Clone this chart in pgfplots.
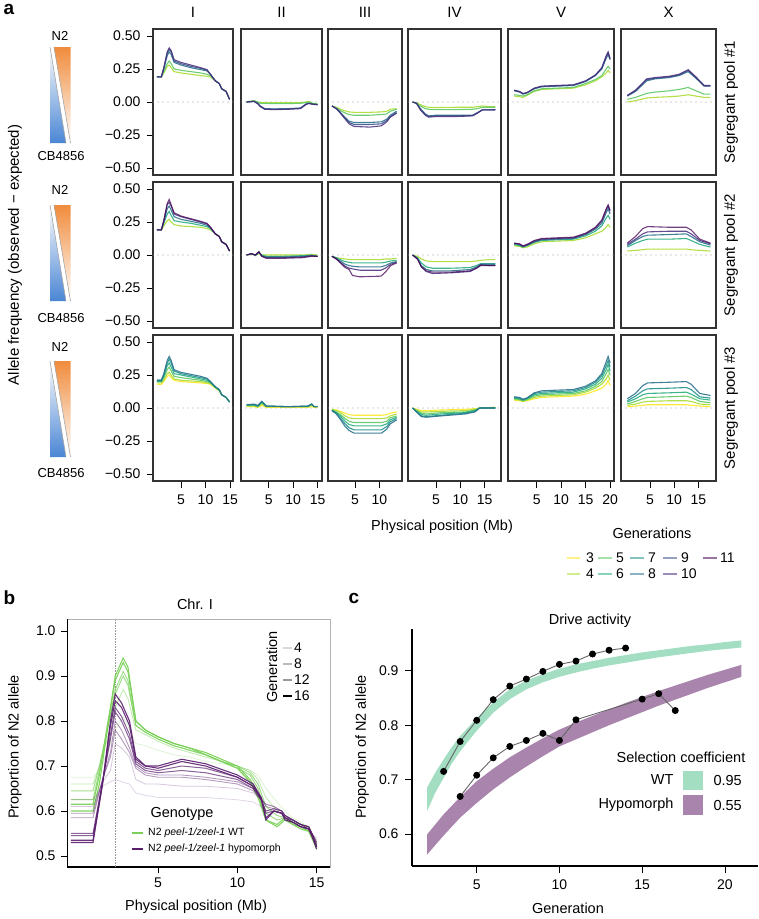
\documentclass[border=0pt]{standalone}
\usepackage{pgfplots}
\pgfplotsset{compat=1.18}
\usepackage{pgfplotstable}
\usepackage{fontspec}
\setmainfont{Liberation Sans}
\newcommand{\fs}[1]{\fontsize{#1}{#1}\selectfont}

\definecolor{v3}{HTML}{FDE725}
\definecolor{v4}{HTML}{AADC32}
\definecolor{v5}{HTML}{5DC863}
\definecolor{v6}{HTML}{27AD81}
\definecolor{v7}{HTML}{21908C}
\definecolor{v8}{HTML}{2C728E}
\definecolor{v9}{HTML}{3B528B}
\definecolor{v10}{HTML}{472D7B}
\definecolor{v11}{HTML}{440154}
\definecolor{cbBlue}{HTML}{4A86D4}
\definecolor{cbOrange}{HTML}{F08C3C}
\definecolor{wtg}{HTML}{7BD05A}
\definecolor{hyp}{HTML}{5A1E6E}
\definecolor{bandG}{HTML}{A3DEC3}
\definecolor{bandP}{HTML}{A985AD}

\tikzset{zeroline/.style={gray!75, line width=1.2pt, line cap=round, dash pattern=on 0pt off 5pt}}
\pgfplotsset{
  /pgf/number format/assume math mode=true,
  g3/.style={v3, line width=1.1pt, opacity=0.9},
  g4/.style={v4, line width=1.1pt, opacity=0.9},
  g5/.style={v5, line width=1.1pt, opacity=0.9},
  g6/.style={v6, line width=1.1pt, opacity=0.9},
  g7/.style={v7, line width=1.1pt, opacity=0.9},
  g8/.style={v8, line width=1.1pt, opacity=0.9},
  g9/.style={v9, line width=1.1pt, opacity=0.9},
  g10/.style={v10, line width=1.1pt, opacity=0.85},
  g11/.style={v11, line width=1.1pt, opacity=0.75},
  pa/.style={scale only axis, anchor=north west, height=146pt,
    ymin=-0.5526, ymax=0.5526, xtick=\empty, ytick=\empty,
    axis line style={line width=1.2pt, black!80},
    tick style={black, line width=0.8pt}, tick align=outside,
    major tick length=6.5pt, xtick pos=bottom, ytick pos=left,
    tick label style={font=\fs{14}},
    xticklabel style={yshift=-3.5pt}, yticklabel style={xshift=-2.5pt}},
  yl/.style={ytick={-0.5,-0.25,0,0.25,0.5},
    yticklabels={−0.50,−0.25,0.00,0.25,0.50}},
}

\newcommand{\panel}[8]{%
  \begin{axis}[pa, at={(#1pt,-#2pt)}, width=#3pt, xmin=#4, xmax=#5, #6]
  \draw[zeroline] (axis cs:#4,0) -- (axis cs:#5,0);
  \pgfplotsinvokeforeach{#8}{\addplot[g##1] table[x=x,y=g##1]{#7};}
  \end{axis}}

% ---------------- Row 1: Segregant pool #1 ----------------
\pgfplotstableread{
x g4 g5 g8 g9 g10
0.1 0.19 0.19 0.19 0.19 0.19
1.0 0.19 0.19 0.19 0.19 0.19
1.5 0.22 0.23 0.25 0.255 0.26
2.2 0.27 0.29 0.35 0.37 0.38
2.6 0.28 0.31 0.38 0.40 0.41
3.0 0.26 0.29 0.36 0.38 0.39
3.6 0.23 0.25 0.30 0.31 0.32
5.0 0.22 0.24 0.28 0.29 0.30
7.0 0.21 0.23 0.26 0.27 0.28
9.0 0.20 0.22 0.245 0.255 0.26
10.3 0.195 0.21 0.235 0.24 0.245
11.0 0.19 0.20 0.21 0.21 0.21
12.0 0.16 0.16 0.16 0.16 0.16
12.8 0.14 0.14 0.14 0.14 0.14
13.3 0.10 0.10 0.10 0.10 0.10
14.2 0.08 0.08 0.08 0.08 0.08
14.9 0.02 0.02 0.02 0.02 0.02
}\tAI
\pgfplotstableread{
x g4 g5 g8 g9 g10
0.5 0.0 0.0 0.0 0.0 0.0
2.0 0.01 0.01 0.005 0.005 0.005
2.8 0.0 0.0 -0.01 -0.012 -0.015
3.3 -0.005 -0.01 -0.03 -0.033 -0.035
4.2 -0.005 -0.01 -0.05 -0.053 -0.055
6.0 -0.005 -0.012 -0.052 -0.055 -0.058
9.0 -0.005 -0.012 -0.05 -0.053 -0.055
11.5 -0.005 -0.01 -0.045 -0.048 -0.05
12.6 0.0 -0.005 -0.015 -0.018 -0.02
13.2 0.005 0.0 -0.01 -0.01 -0.01
14.0 -0.01 -0.01 -0.015 -0.016 -0.018
15.0 -0.015 -0.015 -0.02 -0.02 -0.02
}\tAII
\pgfplotstableread{
x g4 g5 g8 g9 g10
0.3 -0.03 -0.03 -0.03 -0.03 -0.03
1.2 -0.04 -0.045 -0.05 -0.05 -0.05
1.8 -0.05 -0.06 -0.07 -0.07 -0.075
2.8 -0.065 -0.08 -0.11 -0.115 -0.12
3.8 -0.075 -0.095 -0.145 -0.155 -0.165
4.8 -0.078 -0.10 -0.155 -0.17 -0.185
8.0 -0.078 -0.10 -0.155 -0.17 -0.19
10.4 -0.075 -0.095 -0.15 -0.165 -0.18
11.5 -0.07 -0.09 -0.13 -0.14 -0.15
12.2 -0.055 -0.07 -0.10 -0.11 -0.115
13.5 -0.05 -0.055 -0.07 -0.08 -0.085
}\tAIII
\pgfplotstableread{
x g4 g5 g8 g9 g10
0.2 0.0 0.0 0.0 0.0 0.0
1.0 -0.005 -0.01 -0.01 -0.01 -0.01
1.8 -0.02 -0.03 -0.05 -0.055 -0.06
2.8 -0.035 -0.05 -0.09 -0.095 -0.10
3.5 -0.04 -0.055 -0.105 -0.11 -0.115
5.0 -0.042 -0.058 -0.10 -0.105 -0.11
9.0 -0.04 -0.058 -0.10 -0.105 -0.11
12.5 -0.04 -0.055 -0.10 -0.103 -0.105
13.5 -0.035 -0.05 -0.08 -0.083 -0.085
14.5 -0.03 -0.04 -0.06 -0.06 -0.06
16.0 -0.035 -0.04 -0.06 -0.06 -0.06
17.2 -0.035 -0.04 -0.058 -0.058 -0.058
}\tAIV
\pgfplotstableread{
x g4 g5 g8 g9 g10
0.4 0.045 0.055 0.085 0.088 0.09
1.5 0.04 0.05 0.075 0.078 0.08
2.2 0.035 0.045 0.06 0.062 0.065
3.0 0.05 0.055 0.07 0.07 0.07
4.5 0.08 0.085 0.10 0.103 0.105
6.0 0.095 0.10 0.115 0.118 0.12
9.0 0.10 0.105 0.12 0.123 0.125
12.5 0.105 0.11 0.125 0.128 0.13
15.0 0.13 0.14 0.155 0.158 0.16
17.0 0.16 0.17 0.20 0.203 0.205
18.3 0.19 0.20 0.25 0.255 0.26
19.2 0.22 0.25 0.33 0.34 0.35
19.6 0.24 0.27 0.36 0.37 0.38
20.0 0.22 0.25 0.32 0.325 0.33
}\tAV
\pgfplotstableread{
x g4 g5 g8 g9 g10
0.3 0.0 0.02 0.045 0.048 0.05
2.0 0.01 0.035 0.08 0.085 0.09
4.3 0.03 0.065 0.16 0.168 0.175
6.0 0.035 0.075 0.175 0.18 0.185
9.0 0.04 0.085 0.185 0.19 0.195
11.0 0.045 0.095 0.20 0.205 0.21
12.9 0.055 0.11 0.23 0.238 0.245
14.5 0.045 0.085 0.18 0.185 0.19
16.2 0.035 0.06 0.12 0.123 0.125
17.5 0.035 0.06 0.12 0.123 0.125
}\tAX

% ---------------- Row 2: Segregant pool #2 ----------------
\pgfplotstableread{
x g4 g6 g8 g10 g11
0.1 0.19 0.19 0.19 0.19 0.19
1.0 0.19 0.19 0.19 0.19 0.19
1.5 0.22 0.24 0.25 0.26 0.26
2.2 0.26 0.31 0.35 0.38 0.39
2.6 0.27 0.33 0.37 0.40 0.42
3.0 0.25 0.30 0.34 0.37 0.38
3.6 0.23 0.26 0.29 0.31 0.32
5.0 0.22 0.25 0.27 0.29 0.295
7.0 0.215 0.24 0.255 0.27 0.275
9.0 0.21 0.225 0.24 0.25 0.255
10.3 0.20 0.215 0.225 0.235 0.24
11.0 0.19 0.20 0.205 0.21 0.21
12.0 0.16 0.16 0.16 0.16 0.16
12.8 0.14 0.14 0.14 0.14 0.14
13.3 0.10 0.10 0.10 0.10 0.10
14.2 0.08 0.08 0.08 0.08 0.08
14.9 0.03 0.03 0.03 0.03 0.03
}\tBI
\pgfplotstableread{
x g4 g6 g8 g10 g11
0.5 0.0 0.0 0.0 0.0 0.0
1.5 0.005 0.01 0.01 0.01 0.01
2.3 0.0 -0.005 0.0 0.0 0.0
3.0 0.01 0.02 0.02 0.025 0.025
3.6 0.0 0.0 -0.005 -0.01 -0.01
4.5 0.0 -0.01 -0.015 -0.02 -0.025
8.0 0.0 -0.01 -0.015 -0.02 -0.025
12.0 0.0 -0.005 -0.01 -0.015 -0.02
13.8 0.005 0.0 -0.005 -0.005 -0.01
15.0 0.0 -0.01 -0.01 -0.01 -0.01
}\tBII
\pgfplotstableread{
x g4 g6 g8 g10 g11
0.3 -0.01 -0.01 -0.01 -0.01 -0.01
1.2 -0.02 -0.02 -0.025 -0.03 -0.03
2.0 -0.025 -0.035 -0.045 -0.055 -0.06
3.0 -0.03 -0.05 -0.07 -0.085 -0.095
3.8 -0.035 -0.055 -0.08 -0.10 -0.11
4.5 -0.035 -0.06 -0.085 -0.105 -0.155
6.0 -0.035 -0.06 -0.09 -0.115 -0.165
10.3 -0.035 -0.06 -0.09 -0.115 -0.16
11.2 -0.03 -0.055 -0.08 -0.10 -0.13
12.3 -0.03 -0.045 -0.06 -0.07 -0.08
13.5 -0.025 -0.04 -0.05 -0.055 -0.06
}\tBIII
\pgfplotstableread{
x g4 g6 g8 g10 g11
0.2 0.0 0.0 0.0 0.0 0.0
1.2 -0.01 -0.02 -0.03 -0.03 -0.03
2.0 -0.03 -0.06 -0.08 -0.09 -0.09
3.0 -0.045 -0.09 -0.11 -0.125 -0.12
4.3 -0.05 -0.10 -0.12 -0.14 -0.13
8.0 -0.05 -0.10 -0.12 -0.135 -0.13
12.0 -0.05 -0.095 -0.11 -0.125 -0.12
13.3 -0.045 -0.08 -0.09 -0.10 -0.10
14.2 -0.04 -0.065 -0.07 -0.08 -0.075
16.0 -0.035 -0.065 -0.07 -0.08 -0.08
17.2 -0.035 -0.065 -0.07 -0.08 -0.08
}\tBIV
\pgfplotstableread{
x g4 g6 g8 g10 g11
0.4 0.07 0.08 0.085 0.09 0.09
1.5 0.065 0.07 0.08 0.08 0.085
2.2 0.055 0.06 0.065 0.065 0.07
3.0 0.06 0.07 0.075 0.075 0.08
4.5 0.085 0.095 0.10 0.105 0.11
6.0 0.10 0.11 0.115 0.12 0.125
9.0 0.105 0.115 0.12 0.125 0.13
12.5 0.11 0.12 0.125 0.13 0.135
15.0 0.13 0.145 0.155 0.16 0.165
17.0 0.16 0.18 0.195 0.205 0.21
18.3 0.18 0.22 0.24 0.255 0.265
19.2 0.21 0.28 0.32 0.34 0.35
19.6 0.23 0.30 0.35 0.37 0.38
20.0 0.21 0.27 0.31 0.33 0.34
}\tBV
\pgfplotstableread{
x g4 g6 g8 g10 g11
0.3 0.03 0.06 0.07 0.08 0.09
2.0 0.035 0.09 0.11 0.12 0.14
3.5 0.04 0.11 0.14 0.16 0.20
4.5 0.045 0.12 0.15 0.175 0.215
9.0 0.045 0.12 0.155 0.18 0.21
12.5 0.045 0.125 0.16 0.18 0.21
13.5 0.04 0.11 0.14 0.16 0.19
15.3 0.035 0.08 0.10 0.11 0.12
17.5 0.03 0.06 0.075 0.085 0.09
}\tBX

% ---------------- Row 3: Segregant pool #3 ----------------
\pgfplotstableread{
x g3 g4 g5 g6 g7 g8
0.1 0.18 0.19 0.20 0.20 0.21 0.21
1.0 0.18 0.19 0.20 0.20 0.21 0.21
1.5 0.20 0.21 0.23 0.24 0.25 0.26
2.2 0.24 0.26 0.29 0.32 0.34 0.36
2.6 0.25 0.27 0.31 0.34 0.37 0.39
3.0 0.23 0.25 0.28 0.31 0.34 0.36
3.6 0.21 0.22 0.24 0.26 0.28 0.29
5.0 0.20 0.21 0.23 0.25 0.26 0.27
7.0 0.195 0.205 0.22 0.235 0.245 0.255
9.0 0.19 0.20 0.21 0.22 0.23 0.24
10.3 0.185 0.19 0.20 0.21 0.22 0.225
11.0 0.18 0.185 0.19 0.195 0.20 0.20
12.0 0.15 0.155 0.155 0.16 0.16 0.16
12.8 0.13 0.13 0.135 0.135 0.14 0.14
13.3 0.10 0.10 0.10 0.10 0.10 0.10
14.2 0.08 0.08 0.08 0.08 0.08 0.08
14.9 0.045 0.045 0.045 0.045 0.045 0.045
}\tCI
\pgfplotstableread{
x g3 g4 g5 g6 g7 g8
0.5 0.01 0.015 0.02 0.02 0.025 0.025
2.0 0.01 0.015 0.02 0.025 0.025 0.03
2.8 0.005 0.01 0.01 0.015 0.015 0.02
3.6 0.02 0.03 0.04 0.045 0.05 0.05
4.5 0.005 0.01 0.01 0.015 0.015 0.015
9.0 0.005 0.01 0.01 0.01 0.01 0.01
13.0 0.005 0.01 0.01 0.01 0.015 0.015
13.8 0.01 0.02 0.025 0.03 0.03 0.03
14.3 0.005 0.01 0.01 0.01 0.01 0.01
15.0 0.005 0.01 0.01 0.01 0.01 0.01
}\tCII
\pgfplotstableread{
x g3 g4 g5 g6 g7 g8
0.3 -0.01 -0.01 -0.015 -0.015 -0.02 -0.02
1.2 -0.015 -0.02 -0.03 -0.035 -0.04 -0.045
2.0 -0.025 -0.035 -0.05 -0.06 -0.075 -0.085
3.0 -0.04 -0.06 -0.08 -0.10 -0.12 -0.14
3.8 -0.05 -0.075 -0.10 -0.125 -0.15 -0.17
4.8 -0.055 -0.08 -0.11 -0.135 -0.165 -0.19
10.4 -0.055 -0.08 -0.11 -0.135 -0.165 -0.19
11.5 -0.05 -0.075 -0.10 -0.12 -0.14 -0.16
12.2 -0.04 -0.06 -0.075 -0.09 -0.105 -0.12
13.5 -0.03 -0.045 -0.06 -0.07 -0.08 -0.09
}\tCIII
\pgfplotstableread{
x g3 g4 g5 g6 g7 g8
0.2 0.0 0.0 0.0 0.0 0.0 0.0
1.0 -0.01 -0.015 -0.02 -0.025 -0.03 -0.03
2.0 -0.02 -0.03 -0.04 -0.05 -0.06 -0.065
3.0 -0.02 -0.03 -0.045 -0.055 -0.065 -0.07
6.0 -0.015 -0.025 -0.035 -0.045 -0.055 -0.06
11.0 -0.01 -0.02 -0.03 -0.035 -0.04 -0.045
13.0 -0.005 -0.01 -0.015 -0.02 -0.025 -0.03
14.0 0.0 0.0 0.0 0.0 0.0 0.0
17.2 0.005 0.005 0.0 0.0 0.0 0.0
}\tCIV
\pgfplotstableread{
x g3 g4 g5 g6 g7 g8
0.4 0.06 0.065 0.07 0.075 0.08 0.085
1.5 0.055 0.06 0.065 0.07 0.075 0.08
2.2 0.05 0.05 0.055 0.06 0.065 0.065
3.0 0.055 0.06 0.065 0.07 0.075 0.075
4.5 0.07 0.08 0.09 0.10 0.11 0.115
6.0 0.08 0.09 0.10 0.11 0.12 0.13
9.0 0.085 0.095 0.105 0.115 0.125 0.135
12.5 0.09 0.10 0.11 0.12 0.13 0.14
15.0 0.105 0.12 0.13 0.145 0.155 0.165
17.0 0.13 0.15 0.165 0.18 0.195 0.205
18.3 0.15 0.18 0.20 0.225 0.245 0.26
19.2 0.18 0.22 0.26 0.29 0.32 0.35
19.6 0.21 0.25 0.29 0.33 0.36 0.39
20.0 0.17 0.21 0.25 0.28 0.31 0.34
}\tCV
\pgfplotstableread{
x g3 g4 g5 g6 g7 g8
0.3 0.01 0.02 0.03 0.045 0.055 0.07
2.0 0.015 0.03 0.05 0.07 0.09 0.11
3.5 0.02 0.045 0.07 0.10 0.13 0.17
4.5 0.025 0.05 0.08 0.11 0.145 0.19
9.0 0.025 0.055 0.085 0.115 0.15 0.195
12.5 0.025 0.055 0.09 0.12 0.155 0.20
13.5 0.02 0.05 0.08 0.105 0.14 0.18
15.3 0.015 0.03 0.05 0.07 0.085 0.11
17.5 0.01 0.025 0.04 0.06 0.075 0.095
}\tCX

% ---------------- Panel b ----------------
\pgfplotstableread{
x G1 G2 G3 G4 G5 G6
-0.5 0.60 0.615 0.625 0.645 0.66 0.675
0.9 0.60 0.615 0.625 0.645 0.66 0.675
1.3 0.66 0.68 0.69 0.70 0.70 0.69
1.8 0.78 0.79 0.78 0.78 0.76 0.73
2.3 0.90 0.89 0.87 0.86 0.83 0.78
2.8 0.94 0.93 0.91 0.90 0.87 0.81
3.1 0.92 0.91 0.89 0.88 0.85 0.79
3.6 0.80 0.80 0.79 0.79 0.78 0.75
4.2 0.78 0.78 0.775 0.775 0.77 0.745
5.0 0.765 0.765 0.76 0.76 0.755 0.735
6.0 0.75 0.75 0.745 0.745 0.74 0.725
7.0 0.74 0.74 0.735 0.735 0.73 0.72
8.0 0.725 0.73 0.725 0.725 0.72 0.71
9.0 0.71 0.715 0.71 0.71 0.71 0.705
10.0 0.695 0.70 0.695 0.70 0.70 0.70
10.8 0.665 0.67 0.68 0.685 0.69 0.69
11.3 0.63 0.64 0.65 0.66 0.67 0.68
11.8 0.58 0.58 0.595 0.61 0.63 0.65
12.5 0.57 0.565 0.58 0.59 0.60 0.62
13.0 0.585 0.58 0.585 0.585 0.59 0.60
13.5 0.57 0.57 0.575 0.575 0.58 0.585
14.0 0.565 0.56 0.565 0.57 0.57 0.575
14.5 0.555 0.555 0.56 0.56 0.565 0.565
14.7 0.54 0.54 0.545 0.545 0.55 0.55
15.0 0.515 0.52 0.52 0.525 0.53 0.535
}\tbG
\pgfplotstableread{
x P1 P2 P3 P4 P5 P6 P7 P8
-0.5 0.53 0.535 0.545 0.55 0.585 0.595 0.61 0.625
0.9 0.53 0.535 0.545 0.55 0.585 0.595 0.61 0.625
1.5 0.66 0.66 0.665 0.665 0.67 0.67 0.665 0.655
2.0 0.80 0.79 0.77 0.76 0.73 0.72 0.69 0.665
2.3 0.86 0.845 0.83 0.82 0.80 0.78 0.75 0.67
2.7 0.84 0.83 0.81 0.80 0.78 0.76 0.74 0.665
3.2 0.80 0.79 0.77 0.76 0.74 0.73 0.72 0.66
3.6 0.72 0.715 0.71 0.705 0.70 0.695 0.67 0.64
4.2 0.70 0.70 0.695 0.69 0.685 0.68 0.66 0.635
5.0 0.70 0.695 0.69 0.685 0.68 0.675 0.66 0.63
6.5 0.715 0.71 0.70 0.69 0.68 0.675 0.655 0.63
8.0 0.705 0.70 0.695 0.685 0.675 0.67 0.655 0.63
10.0 0.68 0.675 0.675 0.67 0.665 0.66 0.65 0.625
11.0 0.66 0.655 0.655 0.65 0.65 0.645 0.64 0.62
11.5 0.63 0.625 0.63 0.625 0.63 0.625 0.625 0.61
11.8 0.58 0.585 0.595 0.60 0.61 0.615 0.615 0.60
12.3 0.60 0.60 0.60 0.605 0.605 0.61 0.61 0.60
12.8 0.595 0.595 0.595 0.60 0.60 0.60 0.60 0.595
13.0 0.58 0.585 0.585 0.59 0.59 0.59 0.59 0.585
13.5 0.575 0.575 0.58 0.58 0.58 0.58 0.58 0.58
14.0 0.565 0.565 0.57 0.57 0.57 0.57 0.57 0.57
14.5 0.56 0.56 0.56 0.565 0.565 0.565 0.565 0.565
14.7 0.545 0.545 0.55 0.55 0.55 0.55 0.55 0.55
15.0 0.52 0.515 0.52 0.525 0.53 0.53 0.535 0.54
}\tbP

% ---------------- Panel c ----------------
% band outlines: lower edge left to right, then upper edge right to left
\pgfplotstableread{
x y
2 0.642
2.5 0.676
3 0.703
3.5 0.730
4 0.752
5 0.790
6 0.823
7 0.848
8 0.866
9 0.879
10 0.889
11 0.897
12 0.904
13 0.910
14 0.915
15 0.920
16 0.925
17 0.929
18 0.933
19 0.937
20 0.940
21 0.943
21 0.956
20 0.953
19 0.949
18 0.946
17 0.942
16 0.938
15 0.934
14 0.929
13 0.924
12 0.918
11 0.912
10 0.904
9 0.894
8 0.882
7 0.866
6 0.842
5 0.813
4 0.780
3.5 0.760
3 0.737
2.5 0.713
2 0.685
}\tWT
\pgfplotstableread{
x y
2 0.562
3 0.597
4 0.630
5 0.657
6 0.682
7 0.704
8 0.724
9 0.743
10 0.761
11 0.774
12 0.787
13 0.800
14 0.812
15 0.824
16 0.836
17 0.847
18 0.858
19 0.869
20 0.879
21 0.889
21 0.911
20 0.902
19 0.893
18 0.883
17 0.873
16 0.863
15 0.852
14 0.841
13 0.829
12 0.817
11 0.805
10 0.792
9 0.776
8 0.759
7 0.741
6 0.720
5 0.697
4 0.668
3 0.636
2 0.599
}\tHY
\pgfplotstableread{
x y
3 0.715
4 0.770
5 0.809
6 0.847
7 0.872
8 0.885
9 0.899
10 0.912
11 0.918
12 0.931
13 0.938
14 0.942
}\tWTp
\pgfplotstableread{
x y
4 0.669
5 0.708
6 0.740
7 0.761
8 0.772
9 0.785
10 0.772
11 0.810
15 0.848
16 0.858
17 0.827
}\tHYp

\begin{document}
\begin{tikzpicture}[font=\fs{14}]
\useasboundingbox (0,0) rectangle (759pt,-919pt);

% ===== panel a =====
\node[font=\bfseries\fs{19}, anchor=west] at (0pt,-9pt) {a};
\foreach \lab/\cx in {I/193, II/281.5, III/365, IV/454.5, V/561, X/668.5}
  \node[font=\fs{15}] at (\cx pt,-12pt) {\lab};
\foreach \r/\cy in {1/102, 2/255, 3/408}
  \node[rotate=90, font=\fs{15}] at (731pt,-\cy pt) {Segregant pool \#\r};
\node[rotate=90, font=\fs{15}] at (15pt,-255pt) {Allele frequency (observed − expected)};
\node[font=\fs{14.5}] at (442pt,-527pt) {Physical position (Mb)};

% gradient triangles
\foreach \nt/\tt/\tb/\cb in {36/47/143/156, 190/205/301/318, 347/361/457/473}{
  \node[font=\fs{13}] at (60pt,-\nt pt) {N2};
  \node[font=\fs{13}] at (61pt,-\cb pt) {CB4856};
  \shade[bottom color=cbBlue, top color=white]
    (50pt,-\tt pt) -- (50pt,-\tb pt) -- (66pt,-\tb pt) -- cycle;
  \shade[top color=cbOrange, bottom color=white]
    (54pt,-\tt pt) -- (70.5pt,-\tt pt) -- (70.5pt,-\tb pt) -- cycle;
  \draw[gray!70, line width=0.6pt] (50pt,-\tt pt) -- (66pt,-\tb pt);
  \draw[gray!70, line width=0.6pt] (54pt,-\tt pt) -- (70.5pt,-\tb pt);
}

% row 1
\panel{153}{29}{80}{-0.7}{15.6}{yl}{\tAI}{4,5,8,9,10}
\panel{241}{29}{81}{-0.65}{15.9}{}{\tAII}{4,5,8,9,10}
\panel{328}{29}{74}{-0.5}{14.6}{}{\tAIII}{4,5,8,9,10}
\panel{408}{29}{93}{-0.75}{18.35}{}{\tAIV}{4,5,8,9,10}
\panel{508}{29}{106}{-0.86}{20.8}{}{\tAV}{4,5,8,9,10}
\panel{621}{29}{95}{-1.0}{18.65}{}{\tAX}{4,5,8,9,10}
% row 2
\panel{153}{182}{80}{-0.7}{15.6}{yl}{\tBI}{4,6,8,10,11}
\panel{241}{182}{81}{-0.65}{15.9}{}{\tBII}{4,6,8,10,11}
\panel{328}{182}{74}{-0.5}{14.6}{}{\tBIII}{4,6,8,10,11}
\panel{408}{182}{93}{-0.75}{18.35}{}{\tBIV}{4,6,8,10,11}
\panel{508}{182}{106}{-0.86}{20.8}{}{\tBV}{4,6,8,10,11}
\panel{621}{182}{95}{-1.0}{18.65}{}{\tBX}{4,6,8,10,11}
% row 3
\panel{153}{335}{80}{-0.7}{15.6}{yl, xtick={5,10,15}}{\tCI}{3,4,5,6,7,8}
\panel{241}{335}{81}{-0.65}{15.9}{xtick={5,10,15}}{\tCII}{3,4,5,6,7,8}
\panel{328}{335}{74}{-0.5}{14.6}{xtick={5,10}}{\tCIII}{3,4,5,6,7,8}
\panel{408}{335}{93}{-0.75}{18.35}{xtick={5,10,15}}{\tCIV}{3,4,5,6,7,8}
\panel{508}{335}{106}{-0.86}{20.8}{xtick={5,10,15,20}}{\tCV}{3,4,5,6,7,8}
\panel{621}{335}{95}{-1.0}{18.65}{xtick={5,10,15}}{\tCX}{3,4,5,6,7,8}

% Generations legend
\node[font=\fs{14.5}] at (652pt,-533pt) {Generations};
\foreach \g/\xa/\xb/\xl/\yy in {3/567/580/586/558, 5/598/612/616/558, 7/630/644/648/558, 9/663/677/681/558, 11/703/717/720/558,
                                4/567/580/586/574, 6/598/612/616/574, 8/630/644/648/574, 10/663/677/681/574}{
  \draw[v\g, opacity=0.55, line width=1.1pt] (\xa pt,-\yy pt) -- (\xb pt,-\yy pt);
  \node[anchor=west, font=\fs{14}, inner sep=0pt] at (\xl pt,-\yy pt) {\g};
}

% ===== panel b =====
\node[font=\bfseries\fs{19}, anchor=west] at (0pt,-598pt) {b};
\node[font=\fs{14.5}] at (195pt,-604pt) {Chr. I};
\begin{axis}[scale only axis, anchor=north west, at={(67pt,-619pt)},
  width=263pt, height=248pt, xmin=-0.74, xmax=15.84, ymin=0.4755, ymax=1.0267,
  xtick={5,10,15}, ytick={0.5,0.6,0.7,0.8,0.9,1.0},
  yticklabels={0.5,0.6,0.7,0.8,0.9,1.0},
  axis line style={gray!60, line width=0.9pt}, tick style={black, line width=0.8pt},
  tick align=outside, major tick length=6pt, xtick pos=bottom, ytick pos=left,
  tick label style={font=\fs{14}}, xticklabel style={yshift=-1pt}, yticklabel style={xshift=-2pt}]
  \draw[black, line width=1.1pt] (axis cs:-0.74,1.0267) -- (axis cs:-0.74,0.4755) -- (axis cs:15.84,0.4755);
  \draw[gray!80, line width=0.6pt, densely dotted] (axis cs:2.3,0.4755) -- (axis cs:2.3,1.0267);
  \addplot[wtg, line width=0.8pt, opacity=0.25] table[x=x,y=G6]{\tbG};
  \addplot[wtg, line width=0.9pt, opacity=0.45] table[x=x,y=G5]{\tbG};
  \addplot[wtg, line width=1pt, opacity=0.7] table[x=x,y=G4]{\tbG};
  \addplot[wtg, line width=1pt, opacity=0.7] table[x=x,y=G3]{\tbG};
  \addplot[wtg, line width=1.1pt, opacity=0.95] table[x=x,y=G2]{\tbG};
  \addplot[wtg, line width=1.1pt, opacity=0.95] table[x=x,y=G1]{\tbG};
  \addplot[hyp, line width=0.8pt, opacity=0.18] table[x=x,y=P8]{\tbP};
  \addplot[hyp, line width=0.8pt, opacity=0.25] table[x=x,y=P7]{\tbP};
  \addplot[hyp, line width=0.9pt, opacity=0.45] table[x=x,y=P6]{\tbP};
  \addplot[hyp, line width=0.9pt, opacity=0.45] table[x=x,y=P5]{\tbP};
  \addplot[hyp, line width=1pt, opacity=0.7] table[x=x,y=P4]{\tbP};
  \addplot[hyp, line width=1pt, opacity=0.7] table[x=x,y=P3]{\tbP};
  \addplot[hyp, line width=1.1pt, opacity=0.9] table[x=x,y=P2]{\tbP};
  \addplot[hyp, line width=1.1pt, opacity=0.9] table[x=x,y=P1]{\tbP};
\end{axis}
\node[font=\fs{14.5}] at (196pt,-907pt) {Physical position (Mb)};
\node[rotate=90, font=\fs{14.5}] at (15pt,-747pt) {Proportion of N2 allele};
% Generation legend (b)
\node[rotate=90, font=\fs{14.5}] at (272pt,-667pt) {Generation};
\foreach \g/\yy/\cc/\lw in {4/648/gray!30/1.2, 8/664/gray!55/1.6, 12/680/gray!80/2.0, 16/696/black/2.4}{
  \draw[\cc, line width=\lw pt] (283pt,-\yy pt) -- (292pt,-\yy pt);
  \node[anchor=west, font=\fs{14}, inner sep=0pt] at (294pt,-\yy pt) {\g};
}
% Genotype legend
\node[font=\fs{14.5}] at (182pt,-814pt) {Genotype};
\draw[wtg, line width=2pt] (132pt,-833pt) -- (143pt,-833pt);
\node[anchor=west, font=\fs{10.5}, inner sep=0pt] at (148pt,-833pt) {N2 \textit{peel-1/zeel-1} WT};
\draw[hyp, line width=2pt] (132pt,-849pt) -- (143pt,-849pt);
\node[anchor=west, font=\fs{10.5}, inner sep=0pt] at (148pt,-849pt) {N2 \textit{peel-1/zeel-1} hypomorph};

% ===== panel c =====
\node[font=\bfseries\fs{19}, anchor=west] at (345pt,-598pt) {c};
\node[font=\fs{14.5}] at (590pt,-621pt) {Drive activity};
\begin{axis}[scale only axis, anchor=north west, at={(412pt,-629pt)},
  width=346pt, height=237pt, xmin=1.09, xmax=22, ymin=0.541, ymax=0.977,
  axis x line*=bottom, axis y line*=left,
  xtick={5,10,15,20}, ytick={0.6,0.7,0.8,0.9}, yticklabels={0.6,0.7,0.8,0.9},
  axis line style={black, line width=1.1pt}, tick style={black, line width=0.8pt},
  tick align=outside, major tick length=7pt, tick label style={font=\fs{14}},
  xticklabel style={yshift=-3pt}, yticklabel style={xshift=-3pt}]
  \addplot[fill=bandG, draw=none] table[x=x,y=y]{\tWT} -- cycle;
  \addplot[fill=bandP, draw=none] table[x=x,y=y]{\tHY} -- cycle;
  \addplot[black!60, line width=0.9pt, mark=*, mark size=3pt,
    mark options={fill=black, draw=black}] table[x=x,y=y]{\tWTp};
  \addplot[black!60, line width=0.9pt, mark=*, mark size=3pt,
    mark options={fill=black, draw=black}] table[x=x,y=y]{\tHYp};
\end{axis}
\node[font=\fs{14.5}] at (568pt,-908pt) {Generation};
\node[rotate=90, font=\fs{14.5}] at (362pt,-747pt) {Proportion of N2 allele};
% selection legend
\node[font=\fs{14.5}] at (681pt,-757pt) {Selection coefficient};
\fill[bandG] (683pt,-771pt) rectangle (703pt,-790pt);
\fill[bandP] (683pt,-795pt) rectangle (703pt,-815pt);
\node[anchor=east, font=\fs{14.5}] at (677pt,-780pt) {WT};
\node[anchor=east, font=\fs{14.5}] at (677pt,-805pt) {Hypomorph};
\node[anchor=west, font=\fs{14.5}] at (710pt,-780pt) {0.95};
\node[anchor=west, font=\fs{14.5}] at (710pt,-805pt) {0.55};
\end{tikzpicture}
\end{document}
